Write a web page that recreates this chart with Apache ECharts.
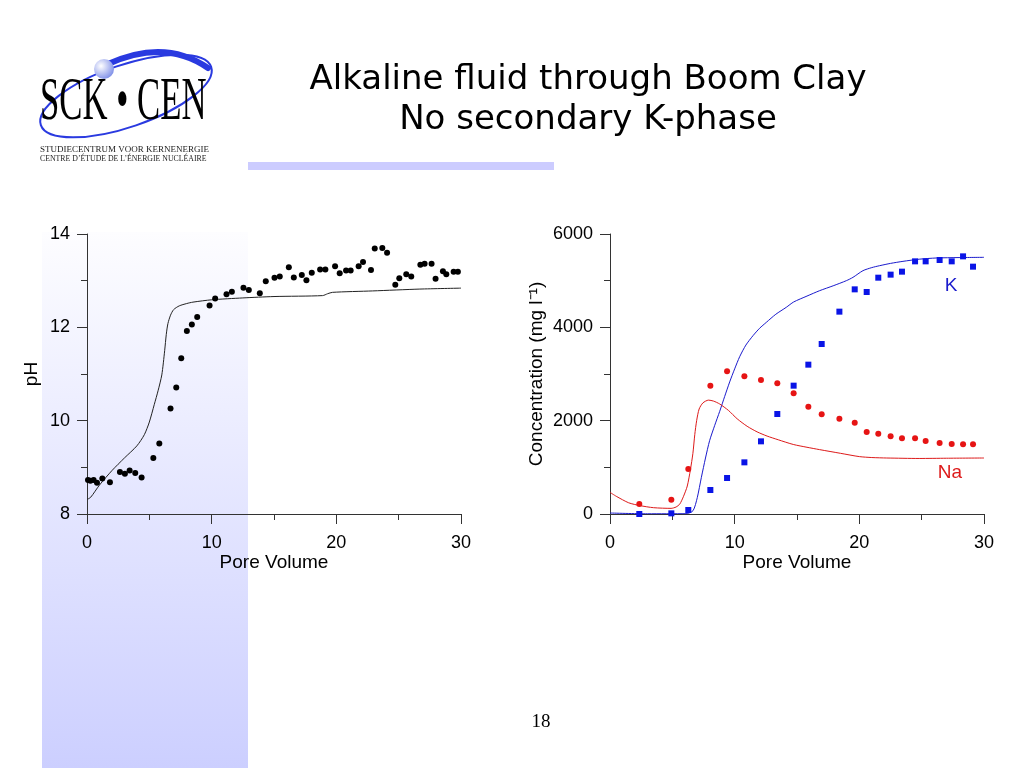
<!DOCTYPE html>
<html><head><meta charset="utf-8">
<script src="https://cdn.jsdelivr.net/npm/echarts@6/dist/echarts.min.js"></script>
<style>html,body{margin:0;padding:0;background:#fff}#c{width:1024px;height:768px}</style>
</head><body><div id="c"></div>
<script>
// pH chart: measured points
const phX = [0.08,0.27,0.53,0.80,1.23,1.84,2.64,3.04,3.42,3.87,4.38,5.32,5.80,6.70,7.16,7.56,8.01,8.41,8.84,9.83,10.28,11.19,11.62,12.55,12.98,13.86,14.34,15.04,15.46,16.19,16.59,17.23,17.60,18.03,18.70,19.12,19.90,20.27,20.78,21.15,21.79,22.14,22.78,23.08,23.69,24.07,24.73,25.05,25.61,26.01,26.74,27.08,27.64,27.96,28.55,28.82,29.41,29.75];
const phY = [8.73,8.71,8.73,8.67,8.76,8.68,8.90,8.86,8.93,8.88,8.78,9.20,9.51,10.26,10.71,11.34,11.92,12.06,12.22,12.47,12.62,12.71,12.76,12.85,12.80,12.73,12.99,13.06,13.09,13.29,13.07,13.12,13.01,13.17,13.24,13.24,13.31,13.16,13.22,13.22,13.31,13.40,13.23,13.69,13.70,13.60,12.91,13.05,13.14,13.09,13.34,13.36,13.36,13.04,13.20,13.14,13.19,13.19];
// pH chart: model curve
const phModelX = [0,0.3,1.0,2.0,3.0,4.0,4.6,5.0,5.4,5.7,6.0,6.23,6.36,6.49,6.7,6.95,7.4,8.0,8.5,10.0,12.5,15.0,18.9,19.3,19.7,22.9,26.7,30];
const phModelY = [8.31,8.36,8.62,8.93,9.2,9.46,9.7,9.97,10.35,10.64,10.98,11.5,11.85,12.08,12.26,12.38,12.46,12.51,12.54,12.59,12.63,12.66,12.68,12.72,12.75,12.78,12.82,12.84];

// Concentration chart: measured points
const sampleX = [2.35,4.92,6.28,8.05,9.39,10.78,12.11,13.42,14.73,15.91,16.98,18.40,19.63,20.59,21.52,22.51,23.42,24.47,25.32,26.44,27.41,28.32,29.12];
const kData = [0,14,86,514,771,1107,1557,2143,2750,3200,3643,4336,4814,4757,5064,5129,5193,5414,5414,5443,5414,5521,5300];
const naData = [214,307,964,2750,3057,2950,2871,2800,2586,2300,2136,2043,1957,1757,1721,1664,1621,1621,1564,1521,1500,1493,1493];
// Concentration chart: model curves
const kModelX = [0,3,6.1,6.66,7.0,7.33,7.66,7.99,8.4,8.8,9.2,9.6,10.0,10.4,10.9,11.47,12.0,12.54,13.3,14.14,14.73,15.8,16.82,17.9,18.96,19.49,20.29,21.0,21.63,22.5,23.5,24.8,26.18,28,30];
const kModelY = [21,5,7,71,350,786,1200,1571,1900,2200,2520,2830,3110,3370,3620,3821,3980,4107,4280,4429,4543,4670,4786,4890,5000,5071,5214,5280,5321,5370,5414,5460,5486,5495,5500];
const naModelX = [0,0.5,1.5,2.4,3.5,4.9,5.3,5.6,5.9,6.2,6.45,6.65,6.8,6.95,7.15,7.45,7.9,8.3,8.8,9.5,10.2,11.0,11.8,12.6,13.5,14.7,15.8,16.8,18.5,20.0,21.0,22.2,24.8,27,30];
const naModelY = [464,380,240,180,135,121,150,214,380,600,950,1300,1700,2000,2250,2380,2440,2420,2357,2220,2040,1880,1760,1670,1590,1490,1430,1380,1300,1230,1210,1200,1190,1195,1200];

// Texts
const titleLines = ['Alkaline fluid through Boom Clay', 'No secondary K-phase'];
const xName = 'Pore Volume';
const phName = 'pH';
const concName = 'Concentration (mg l\u207B\u00B9)';
const pageNo = '18';

const zip = (xs, ys) => xs.map((x, i) => [x, ys[i]]);
const AX = '#333';
const SANS = 'Liberation Sans, Arial, sans-serif';

function xAxisDef(gi) {
  return {
    gridIndex: gi, type: 'value', min: 0, max: 30, interval: 10,
    axisLine: {show: true, onZero: false, lineStyle: {color: AX, width: 1}},
    axisTick: {show: true, length: 10, lineStyle: {color: AX}},
    minorTick: {show: true, splitNumber: 2, length: 6, lineStyle: {color: AX}},
    splitLine: {show: false}, minorSplitLine: {show: false},
    axisLabel: {fontSize: 18, color: '#000', margin: 20, fontFamily: SANS, formatter: v => String(v)},
    name: xName, nameLocation: 'middle', nameGap: 39,
    nameTextStyle: {fontSize: 19, color: '#000', fontFamily: SANS}
  };
}
function yAxisDef(gi, min, max, interval, name, gap) {
  return {
    gridIndex: gi, type: 'value', min: min, max: max, interval: interval,
    axisLine: {show: true, onZero: false, lineStyle: {color: AX, width: 1}},
    axisTick: {show: true, length: 10, lineStyle: {color: AX}},
    minorTick: {show: true, splitNumber: 2, length: 6, lineStyle: {color: AX}},
    splitLine: {show: false}, minorSplitLine: {show: false},
    axisLabel: {fontSize: 18, color: '#000', margin: 17, fontFamily: SANS, formatter: v => String(v)},
    name: name, nameLocation: 'middle', nameRotate: 90, nameGap: gap,
    nameTextStyle: {fontSize: 19, color: '#000', fontFamily: SANS}
  };
}

const chart = echarts.init(document.getElementById('c'));
chart.setOption({
  animation: false,
  backgroundColor: '#fff',
  grid: [
    {left: 87, top: 234, width: 374, height: 280, outerBoundsMode: 'none'},
    {left: 610, top: 234, width: 374, height: 280, outerBoundsMode: 'none'}
  ],
  xAxis: [xAxisDef(0), xAxisDef(1)],
  yAxis: [yAxisDef(0, 8, 14, 2, phName, 46), yAxisDef(1, 0, 6000, 2000, concName, 64)],
  series: [
    {type: 'line', xAxisIndex: 0, yAxisIndex: 0, data: zip(phModelX, phModelY), showSymbol: false,
     smooth: 0.25, lineStyle: {color: '#222', width: 1}, z: 3},
    {type: 'scatter', xAxisIndex: 0, yAxisIndex: 0, data: zip(phX, phY), symbol: 'circle', symbolSize: 6,
     itemStyle: {color: '#000', opacity: 1}, z: 4},
    {type: 'line', xAxisIndex: 1, yAxisIndex: 1, data: zip(kModelX, kModelY), showSymbol: false,
     smooth: 0.25, lineStyle: {color: '#1a1acc', width: 1}, z: 3},
    {type: 'line', xAxisIndex: 1, yAxisIndex: 1, data: zip(naModelX, naModelY), showSymbol: false,
     smooth: 0.25, lineStyle: {color: '#dd1a1a', width: 1}, z: 3},
    {type: 'scatter', xAxisIndex: 1, yAxisIndex: 1, data: zip(sampleX, kData), symbol: 'rect', symbolSize: 6,
     itemStyle: {color: '#0a14e6', opacity: 1}, z: 4},
    {type: 'scatter', xAxisIndex: 1, yAxisIndex: 1, data: zip(sampleX, naData), symbol: 'circle', symbolSize: 6,
     itemStyle: {color: '#e61414', opacity: 1}, z: 4}
  ],
  graphic: [
    {type: 'rect', z: -10, silent: true, shape: {x: 42, y: 232, width: 206, height: 536},
     style: {fill: new echarts.graphic.LinearGradient(0, 0, 0, 1, [{offset: 0, color: '#fdfdff'}, {offset: 1, color: '#cccfff'}])}},
    {type: 'rect', z: -10, silent: true, shape: {x: 248, y: 162, width: 306, height: 8}, style: {fill: '#ccccff'}},
    {type: 'text', x: 588, y: 80, style: {text: titleLines[0], fontSize: 34, fontFamily: 'DejaVu Sans', fill: '#000', align: 'center', verticalAlign: 'middle'}},
    {type: 'text', x: 588, y: 120, style: {text: titleLines[1], fontSize: 34, fontFamily: 'DejaVu Sans', fill: '#000', align: 'center', verticalAlign: 'middle'}},
    {type: 'text', x: 541, y: 722, style: {text: pageNo, fontSize: 19, fontFamily: 'Liberation Serif', fill: '#000', align: 'center', verticalAlign: 'middle'}},
    {type: 'text', x: 951, y: 286, style: {text: 'K', fontSize: 19, fontFamily: SANS, fill: '#1a1acc', align: 'center', verticalAlign: 'middle'}},
    {type: 'text', x: 950, y: 473, style: {text: 'Na', fontSize: 19, fontFamily: SANS, fill: '#dd1a1a', align: 'center', verticalAlign: 'middle'}},
    // logo
    {type: 'ellipse', silent: true, x: 126, y: 96, rotation: 0.33, shape: {cx: 0, cy: 0, rx: 90, ry: 31},
     style: {fill: 'none', stroke: '#2a3ae0', lineWidth: 2}},
    {type: 'bezierCurve', silent: true, shape: {x1: 108, y1: 64, cpx1: 165, cpy1: 38, x2: 208, y2: 68},
     style: {fill: 'none', stroke: '#2a3ae0', lineWidth: 6, lineCap: 'round'}},
    {type: 'circle', silent: true, shape: {cx: 104, cy: 69, r: 10},
     style: {fill: new echarts.graphic.RadialGradient(0.35, 0.35, 0.7, [{offset: 0, color: '#ffffff'}, {offset: 1, color: '#8090e8'}])}},
    {type: 'text', x: 40, y: 103, scaleX: 0.56, style: {text: 'SCK \u2022 CEN', fontSize: 62, fontFamily: 'Liberation Serif', fill: '#000', align: 'left', verticalAlign: 'middle'}},
    {type: 'text', x: 40, y: 150, style: {text: 'STUDIECENTRUM VOOR KERNENERGIE', fontSize: 9, fontFamily: 'Liberation Serif', fill: '#222', align: 'left', verticalAlign: 'middle'}},
    {type: 'text', x: 40, y: 159, style: {text: 'CENTRE D\u2019\u00C9TUDE DE L\u2019\u00C9NERGIE NUCL\u00C9AIRE', fontSize: 7.8, fontFamily: 'Liberation Serif', fill: '#222', align: 'left', verticalAlign: 'middle'}}
  ]
});
</script>
</body></html>
